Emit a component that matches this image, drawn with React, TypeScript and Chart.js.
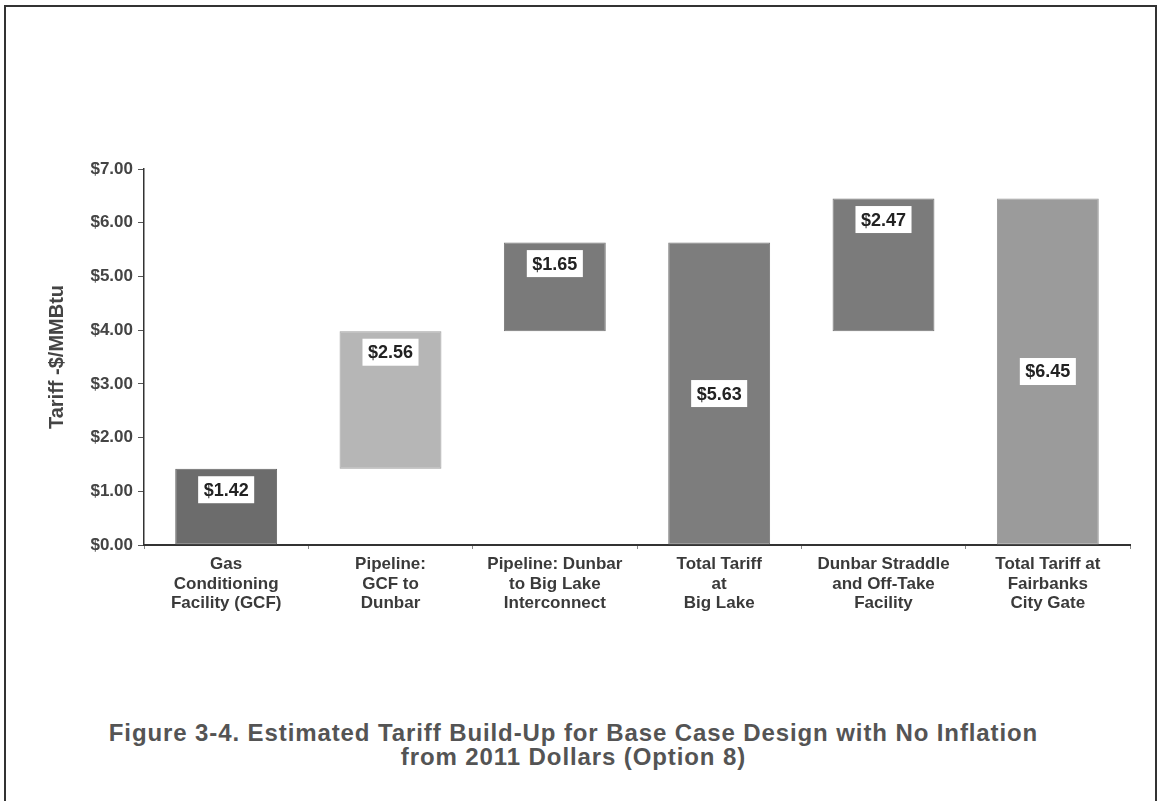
import React, { useEffect, useRef } from "react";
import { Chart, registerables } from "chart.js";

Chart.register(...registerables);

const categories: string[][] = [
  ["Gas", "Conditioning", "Facility (GCF)"],
  ["Pipeline:", "GCF to", "Dunbar"],
  ["Pipeline: Dunbar", "to Big Lake", "Interconnect"],
  ["Total Tariff", "at", "Big Lake"],
  ["Dunbar Straddle", "and Off-Take", "Facility"],
  ["Total Tariff at", "Fairbanks", "City Gate"],
];
const barStart: number[] = [0, 1.42, 3.98, 0, 3.98, 0];
const barEnd: number[] = [1.42, 3.98, 5.63, 5.63, 6.45, 6.45];
const valueLabels: string[] = ["$1.42", "$2.56", "$1.65", "$5.63", "$2.47", "$6.45"];
const isTotal: boolean[] = [false, false, false, true, false, true];
const barColors: string[] = ["#6c6c6c", "#b6b6b6", "#7a7a7a", "#7d7d7d", "#7b7b7b", "#9b9b9b"];
const barBorders: string[] = ["#676767", "#9e9e9e", "#767676", "#7a7a7a", "#777777", "#979797"];
const yTitle = "Tariff -$/MMBtu";
const figureTitle = [
  "Figure 3-4. Estimated Tariff Build-Up for Base Case Design with No Inflation",
  "from 2011 Dollars (Option 8)",
];

const FONT = "'Liberation Sans', Arial, sans-serif";

export default function App() {
  const ref = useRef<HTMLCanvasElement | null>(null);

  useEffect(() => {
    const canvas = ref.current;
    if (!canvas) return;

    const labelPlugin = {
      id: "valueLabels",
      afterDatasetsDraw(chart: any) {
        const ctx = chart.ctx;
        const meta = chart.getDatasetMeta(0);
        ctx.save();
        ctx.font = `bold 18px ${FONT}`;
        ctx.textAlign = "center";
        ctx.textBaseline = "middle";
        meta.data.forEach((bar: any, i: number) => {
          const top = Math.min(bar.y, bar.base);
          const bottom = Math.max(bar.y, bar.base);
          const cy = isTotal[i] ? (top + bottom) / 2 : top + 21;
          const text = valueLabels[i];
          const w = ctx.measureText(text).width + 11;
          const h = 27;
          ctx.fillStyle = "#ffffff";
          ctx.fillRect(bar.x - w / 2, cy - h / 2, w, h);
          ctx.fillStyle = "#222222";
          ctx.fillText(text, bar.x, cy + 1);
        });
        ctx.restore();
      },
    };

    const yTitlePlugin = {
      id: "yTitle",
      afterDraw(chart: any) {
        const ctx = chart.ctx;
        const area = chart.chartArea;
        ctx.save();
        ctx.font = `bold 20px ${FONT}`;
        ctx.fillStyle = "#444444";
        ctx.textAlign = "center";
        ctx.textBaseline = "middle";
        ctx.translate(57, (area.top + area.bottom) / 2);
        ctx.rotate(-Math.PI / 2);
        ctx.fillText(yTitle, 0, 0);
        ctx.restore();
      },
    };

    const chart = new Chart(canvas, {
      type: "bar",
      data: {
        labels: categories,
        datasets: [
          {
            data: barStart.map((s, i) => [s, barEnd[i]]),
            backgroundColor: barColors,
            borderColor: barBorders,
            borderWidth: 1,
            borderSkipped: false,
            barPercentage: 0.62,
            categoryPercentage: 1,
          } as any,
        ],
      },
      options: {
        animation: false,
        responsive: false,
        devicePixelRatio: 1,
        layout: { padding: { top: 169, right: 29, bottom: 15, left: 0 } },
        plugins: {
          legend: { display: false },
          tooltip: { enabled: false },
          title: { display: false },
        },
        scales: {
          x: {
            grid: {
              display: true,
              drawOnChartArea: false,
              drawTicks: true,
              tickLength: 4,
              color: "#888888",
              offset: true,
            },
            border: { color: "#333333", width: 2 },
            ticks: {
              color: "#3a3a3a",
              font: { family: FONT, size: 17, weight: "bold", lineHeight: 1.13 },
              padding: 6,
              maxRotation: 0,
              autoSkip: false,
            },
            afterFit: (s: any) => {
              s.height = 80;
            },
          },
          y: {
            min: 0,
            max: 7,
            grid: {
              drawOnChartArea: false,
              drawTicks: true,
              tickLength: 6,
              color: "#555555",
            },
            border: { color: "#333333", width: 1.5 },
            ticks: {
              stepSize: 1,
              color: "#444444",
              font: { family: FONT, size: 17, weight: "bold" },
              padding: 5,
              callback: (v: any) => "$" + Number(v).toFixed(2),
            },
            afterFit: (s: any) => {
              s.width = 144;
            },
          },
        },
      } as any,
      plugins: [labelPlugin, yTitlePlugin],
    });

    return () => chart.destroy();
  }, []);

  return (
    <div style={{ position: "fixed", left: 0, top: 0, width: 1159, height: 801, background: "#ffffff", overflow: "hidden" }}>
      <div
        style={{
          position: "absolute",
          left: 4,
          top: 5,
          width: 1153,
          height: 830,
          border: "2px solid #333333",
          boxSizing: "border-box",
        }}
      />
      <canvas ref={ref} width={1159} height={640} style={{ position: "absolute", left: 0, top: 0, width: 1159, height: 640 }} />
      <div
        style={{
          position: "absolute",
          left: 0,
          top: 721,
          width: 1147,
          textAlign: "center",
          fontFamily: FONT,
          fontWeight: "bold",
          fontSize: 24,
          letterSpacing: "0.9px",
          lineHeight: "24px",
          color: "#545454",
        }}
      >
        {figureTitle.map((t, i) => (
          <div key={i}>{t}</div>
        ))}
      </div>
    </div>
  );
}
